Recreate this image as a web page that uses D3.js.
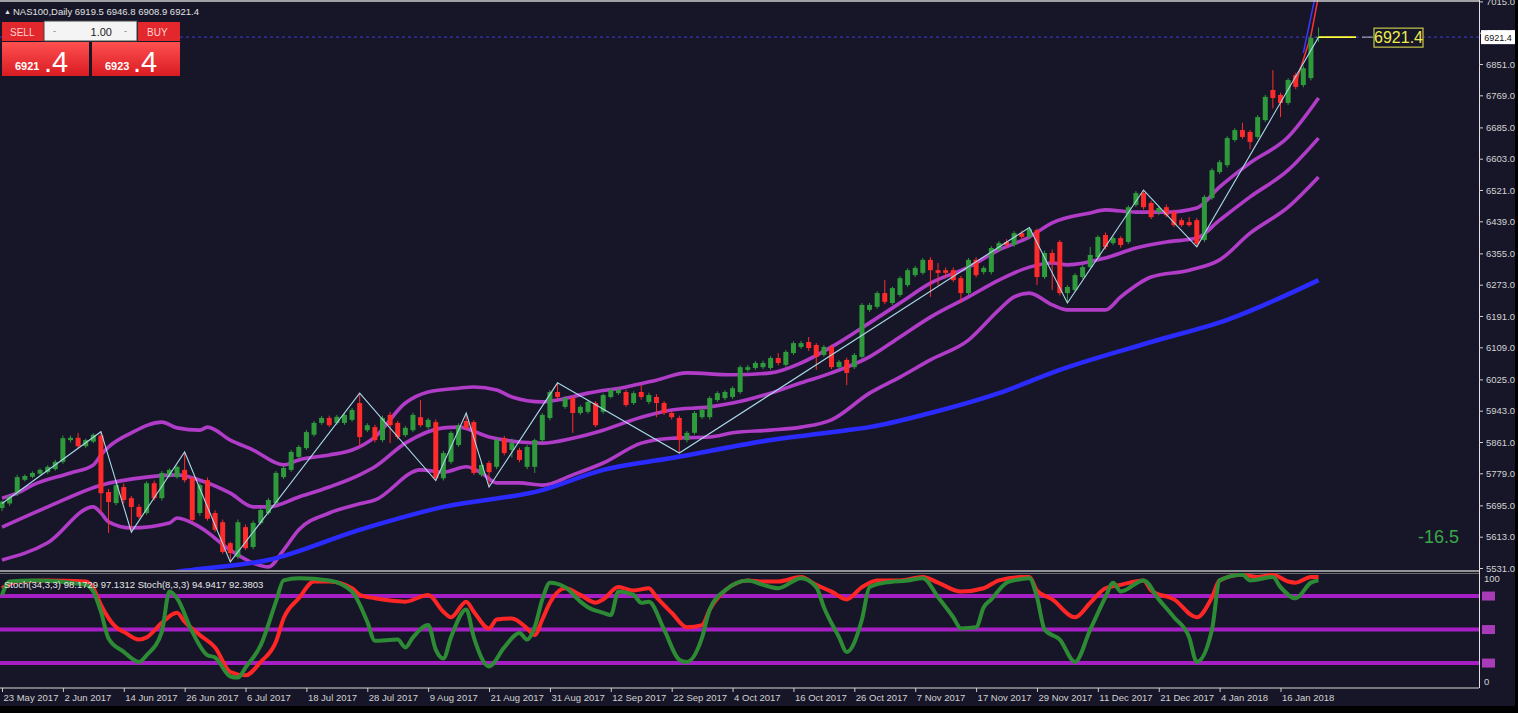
<!DOCTYPE html>
<html><head><meta charset="utf-8">
<script src="https://cdnjs.cloudflare.com/ajax/libs/d3/7.8.5/d3.min.js"></script>
<style>
html,body{margin:0;padding:0;background:#000;overflow:hidden}
text{font-family:"Liberation Sans","DejaVu Sans",Arial,sans-serif}
</style>
</head><body>
<svg id="c" width="1518" height="713"></svg>
<script>
// ---------------- DATA ----------------
const symbolTitle = "NAS100,Daily  6919.5 6946.8 6908.9 6921.4";
const stochTitle = "Stoch(34,3,3) 98.1729 97.1312  Stoch(8,3,3) 94.9417 92.3803";
const dateLabels = ["23 May 2017","2 Jun 2017","14 Jun 2017","26 Jun 2017","6 Jul 2017","18 Jul 2017","28 Jul 2017","9 Aug 2017","21 Aug 2017","31 Aug 2017","12 Sep 2017","22 Sep 2017","4 Oct 2017","16 Oct 2017","26 Oct 2017","7 Nov 2017","17 Nov 2017","29 Nov 2017","11 Dec 2017","21 Dec 2017","4 Jan 2018","16 Jan 2018"];
const dateLabelBars = [0,8,16,24,32,40,48,56,64,72,80,88,96,104,112,120,128,136,144,152,160,168];
const priceTicks = [7015,6933,6851,6769,6685,6603,6521,6439,6355,6273,6191,6109,6025,5943,5861,5779,5695,5613,5531];
const stochTicks = [100,0];
const stochLevels = [80,50,20];
const lastPrice = 6921.4;
const bidText = "6921", bidPip = ".4", askText = "6923", askPip = ".4";
const lotText = "1.00";
const spreadText = "-16.5";

// candles: [open, high, low, close], one per daily bar
const candles = [
[5688,5708,5680,5705],[5700,5722,5694,5718],[5727,5775,5720,5769],[5762,5776,5758,5772],[5770,5784,5766,5780],
[5778,5792,5774,5788],[5782,5800,5777,5796],[5790,5814,5786,5809],[5809,5878,5804,5871],[5866,5878,5860,5872],
[5872,5885,5845,5850],[5850,5870,5845,5866],[5862,5884,5858,5880],[5878,5888,5675,5727],[5730,5738,5623,5704],
[5701,5755,5695,5748],[5743,5752,5700,5709],[5714,5720,5625,5691],[5691,5698,5660,5665],[5675,5758,5670,5753],
[5753,5760,5708,5714],[5714,5785,5708,5780],[5772,5792,5768,5788],[5769,5800,5765,5796],[5788,5835,5755,5761],
[5767,5772,5650,5657],[5675,5755,5668,5748],[5761,5768,5655,5660],[5675,5682,5625,5631],[5651,5658,5568,5573],
[5596,5600,5547,5570],[5560,5658,5555,5651],[5638,5645,5578,5583],[5586,5655,5580,5649],[5649,5688,5644,5683],
[5675,5714,5670,5709],[5701,5785,5696,5780],[5769,5798,5764,5793],[5788,5840,5783,5835],[5822,5853,5817,5848],
[5845,5892,5840,5887],[5880,5916,5875,5911],[5911,5929,5906,5924],[5924,5930,5900,5905],[5911,5932,5906,5927],
[5911,5937,5906,5932],[5919,5950,5914,5945],[5963,5989,5850,5874],[5892,5910,5887,5905],[5900,5906,5860,5866],
[5866,5930,5860,5924],[5932,5940,5858,5905],[5911,5916,5868,5874],[5879,5903,5874,5898],[5892,5938,5887,5932],
[5926,5971,5900,5905],[5900,5924,5894,5919],[5913,5920,5760,5766],[5766,5838,5760,5832],[5809,5890,5803,5885],
[5853,5910,5848,5905],[5916,5937,5892,5898],[5913,5918,5775,5780],[5775,5806,5770,5801],[5806,5812,5743,5782],
[5796,5872,5790,5866],[5871,5877,5826,5832],[5840,5870,5820,5858],[5840,5846,5808,5814],[5796,5853,5790,5848],
[5796,5870,5780,5866],[5866,5937,5860,5932],[5924,5997,5918,5992],[5992,6016,5972,5979],[5953,5981,5948,5976],
[5976,5982,5885,5937],[5937,5958,5932,5953],[5940,5970,5935,5966],[5963,5968,5900,5905],[5940,5988,5935,5984],
[5979,6002,5975,5997],[5989,6002,5984,5997],[5992,5998,5953,5958],[5963,5994,5958,5989],[5992,6010,5972,5979],
[5966,5990,5960,5984],[5979,5986,5926,5963],[5963,5968,5932,5937],[5937,5942,5920,5926],[5924,5930,5832,5866],
[5866,5890,5860,5885],[5885,5942,5880,5937],[5926,5950,5921,5945],[5926,5981,5920,5976],[5971,5994,5966,5989],
[5976,5997,5971,5992],[5979,6007,5974,6002],[5992,6062,5987,6057],[6050,6063,6045,6057],[6055,6073,6050,6068],
[6057,6074,6052,6068],[6055,6086,6050,6081],[6081,6094,6062,6068],[6063,6102,6058,6097],[6094,6125,6089,6120],
[6110,6126,6105,6120],[6123,6136,6100,6107],[6115,6120,6050,6084],[6089,6115,6084,6110],[6110,6116,6052,6057],
[6057,6076,6052,6071],[6076,6082,6010,6042],[6057,6094,6052,6089],[6084,6225,6079,6220],[6207,6225,6202,6220],
[6215,6256,6210,6251],[6251,6285,6222,6228],[6225,6268,6220,6264],[6246,6295,6241,6290],[6272,6316,6267,6311],
[6298,6322,6293,6317],[6304,6343,6299,6338],[6338,6345,6241,6311],[6311,6330,6272,6304],[6311,6318,6290,6304],
[6311,6318,6280,6285],[6290,6296,6225,6251],[6251,6343,6246,6338],[6338,6345,6292,6298],[6306,6322,6300,6317],
[6306,6374,6300,6369],[6364,6387,6359,6382],[6385,6392,6370,6377],[6377,6413,6372,6408],[6408,6415,6392,6398],
[6398,6423,6392,6419],[6416,6420,6272,6293],[6293,6362,6288,6356],[6356,6365,6259,6330],[6385,6390,6245,6251],
[6251,6272,6225,6267],[6259,6303,6254,6298],[6293,6324,6288,6319],[6319,6372,6314,6351],[6345,6403,6340,6398],
[6403,6410,6365,6372],[6382,6400,6377,6395],[6395,6400,6370,6377],[6385,6481,6380,6476],[6482,6518,6477,6513],
[6513,6521,6470,6476],[6487,6493,6445,6450],[6463,6480,6455,6474],[6476,6483,6450,6455],[6463,6470,6424,6429],
[6442,6448,6424,6429],[6437,6450,6425,6429],[6442,6448,6372,6380],[6390,6508,6385,6503],[6500,6578,6495,6573],
[6568,6600,6563,6594],[6586,6662,6580,6657],[6652,6683,6647,6678],[6678,6697,6655,6660],[6673,6678,6628,6647],
[6660,6717,6655,6712],[6704,6770,6699,6765],[6783,6835,6735,6762],[6770,6776,6712,6749],[6749,6814,6744,6809],
[6822,6828,6785,6791],[6796,6846,6790,6840],[6814,6930,6808,6919.5],[6919.5,6946.8,6908.9,6921.4]
];

// zigzag pivots: [bar, price]
const zigzag = [[0,5700],[13,5888],[17,5625],[24,5835],[30,5547],[47,5989],[57,5760],[61,5937],[64,5743],[73,6016],[89,5832],[135,6423],[140,6225],[150,6521],[157,6372],[173,6921.4]];

// bands: [bar, price]
const bandUpper = [[0,5714],[2,5727],[4,5748],[9,5780],[12,5801],[13,5827],[14,5848],[17,5885],[21,5913],[23,5898],[26,5892],[27,5900],[30,5866],[33,5840],[37,5801],[39,5814],[43,5827],[46,5840],[49,5874],[53,5963],[56,5992],[60,6002],[62,6005],[65,5997],[67,5979],[71,5966],[73,5971],[77,5989],[82,6005],[86,6023],[90,6042],[96,6037],[101,6042],[105,6068],[109,6110],[114,6173],[118,6225],[122,6277],[127,6319],[131,6364],[135,6398],[138,6435],[143,6461],[145,6469],[149,6463],[153,6463],[157,6474],[160,6529],[164,6592],[169,6660],[173,6762]];
const bandMiddle = [[0,5638],[6,5691],[13,5748],[19,5769],[23,5775],[26,5761],[30,5727],[33,5691],[35,5691],[39,5717],[43,5743],[47,5775],[49,5796],[53,5858],[58,5898],[60,5900],[64,5874],[68,5861],[71,5858],[75,5871],[79,5892],[84,5926],[88,5945],[93,5953],[96,5963],[101,5989],[105,6016],[109,6042],[114,6084],[118,6136],[122,6188],[127,6241],[131,6285],[135,6319],[138,6330],[140,6325],[145,6343],[149,6369],[153,6385],[157,6395],[160,6442],[164,6503],[169,6573],[173,6657]];
const bandLower = [[0,5552],[6,5597],[12,5691],[13,5675],[14,5652],[17,5636],[22,5649],[23,5662],[26,5638],[30,5578],[33,5544],[35,5534],[37,5578],[39,5631],[43,5675],[47,5699],[49,5709],[55,5788],[58,5782],[61,5796],[63,5780],[65,5754],[68,5754],[71,5748],[75,5775],[79,5806],[84,5858],[88,5871],[93,5874],[96,5885],[101,5892],[105,5900],[109,5919],[114,5989],[118,6031],[122,6076],[127,6128],[131,6207],[133,6241],[135,6251],[138,6220],[140,6207],[145,6207],[147,6241],[151,6293],[156,6311],[160,6338],[164,6408],[169,6476],[173,6555]];
const maSlow = [[18,5505],[23,5521],[25,5526],[35,5552],[47,5631],[58,5691],[71,5735],[79,5788],[88,5819],[101,5866],[111,5892],[114,5900],[122,5937],[131,5989],[139,6050],[151,6123],[161,6181],[173,6285]];
const fastRed = [[170,6800],[172,6925],[173,7030]];
const fastBlue = [[171,6880],[172,6975],[173,7070]];

// stochastics: [bar, value]
const stochSlow = [[0,87],[2,93],[6,94],[11,93],[12,87],[13,72],[15,52],[16,48],[18,41],[19,43],[21,56],[23,65],[24,57],[26,45],[28,34],[30,12],[32,9],[34,21],[36,39],[37,60],[39,78],[41,93],[43,93],[46,87],[47,81],[49,78],[51,76],[53,75],[56,81],[58,66],[59,61],[61,75],[62,66],[64,51],[65,59],[67,60],[69,51],[70,45],[71,59],[72,74],[74,87],[76,81],[78,74],[79,77],[81,88],[83,85],[85,87],[86,79],[88,65],[90,52],[92,54],[93,68],[95,85],[98,94],[100,93],[102,93],[105,97],[107,90],[109,84],[111,77],[113,88],[115,94],[118,94],[121,97],[123,92],[126,84],[129,87],[131,94],[134,97],[135,97],[136,85],[138,77],[141,61],[143,74],[145,87],[147,90],[150,94],[151,85],[154,77],[157,61],[159,79],[160,94],[163,99],[165,97],[167,99],[169,93],[170,92],[172,97],[173,97]];
const stochFast = [[0,81],[1,93],[4,94],[11,90],[12,84],[13,66],[14,42],[16,30],[18,21],[19,27],[21,48],[22,84],[23,78],[25,48],[27,27],[28,25],[30,8],[31,7],[32,16],[34,36],[36,75],[37,94],[39,96],[43,94],[46,84],[48,57],[49,40],[52,41],[53,34],[54,43],[56,54],[57,32],[58,24],[59,43],[61,68],[62,43],[64,17],[66,34],[68,47],[69,41],[70,52],[71,77],[72,92],[74,88],[76,75],[77,70],[79,65],[80,63],[81,84],[83,81],[84,74],[85,75],[87,50],[89,23],[90,21],[92,43],[93,68],[95,85],[98,94],[100,90],[102,87],[105,96],[107,88],[108,70],[110,43],[111,30],[113,59],[114,88],[116,92],[119,94],[121,96],[123,79],[125,61],[126,51],[128,52],[129,70],[130,77],[132,92],[133,94],[135,96],[136,79],[137,50],[139,41],[141,21],[143,50],[145,79],[146,92],[147,84],[150,94],[152,77],[154,61],[156,43],[157,21],[159,50],[160,94],[163,99],[164,94],[167,97],[168,88],[170,78],[172,92],[173,94]];

// ---------------- DRAW ----------------
const W=1518,H=713, AX=1479, MAIN_B=570, ST_T=573, ST_B=688;
const C = {bg:"#171628", up:"#2f9a3c", dn:"#ff2b2b", band:"#b03cc8", ma:"#2b2bff", zz:"#a8d8e8",
  level:"#a51fc4", sRed:"#ff2626", sGreen:"#2e8b35", txt:"#d2d2d2"};

const svg = d3.select("#c");
svg.append("rect").attr("width",W).attr("height",H).attr("fill","#000");
svg.append("rect").attr("width",1515).attr("height",706).attr("fill",C.bg);

const defs = svg.append("defs");
defs.append("clipPath").attr("id","clipMain").append("rect").attr("x",0).attr("y",0).attr("width",AX).attr("height",MAIN_B);
defs.append("clipPath").attr("id","clipSt").append("rect").attr("x",0).attr("y",ST_T).attr("width",AX).attr("height",ST_B-ST_T);
const grad = defs.append("linearGradient").attr("id","gRed").attr("x1",0).attr("y1",0).attr("x2",0).attr("y2",1);
grad.append("stop").attr("offset","0%").attr("stop-color","#ff5050");
grad.append("stop").attr("offset","100%").attr("stop-color","#d81c22");

const x = d3.scaleLinear().domain([0,168]).range([2,1280.5]);
const y = d3.scaleLinear().domain([5531,7015]).range([568,1.4]);
const ys = d3.scaleLinear().domain([0,100]).range([685.4,573.7]);

const main = svg.append("g").attr("clip-path","url(#clipMain)");

// bid line
main.append("line").attr("x1",0).attr("x2",AX).attr("y1",y(lastPrice)).attr("y2",y(lastPrice))
  .attr("stroke","#3434b4").attr("stroke-width",1.2).attr("stroke-dasharray","3,3");

const ln = d3.line().x(d=>x(d[0])).y(d=>y(d[1])).curve(d3.curveMonotoneX);
[bandUpper,bandMiddle,bandLower].forEach(b=>{
  main.append("path").attr("d",ln(b)).attr("fill","none").attr("stroke",C.band).attr("stroke-width",3.6).attr("stroke-linejoin","round");
});
main.append("path").attr("d",ln(maSlow)).attr("fill","none").attr("stroke",C.ma).attr("stroke-width",4.5);
main.append("path").attr("d",d3.line().x(d=>x(d[0])).y(d=>y(d[1]))(fastRed)).attr("fill","none").attr("stroke","#ff3030").attr("stroke-width",1.5);
main.append("path").attr("d",d3.line().x(d=>x(d[0])).y(d=>y(d[1]))(fastBlue)).attr("fill","none").attr("stroke","#3a3aff").attr("stroke-width",1.5);

// candles
const cg = main.append("g");
cg.selectAll("line.w").data(candles).enter().append("line")
  .attr("x1",(d,i)=>x(i)).attr("x2",(d,i)=>x(i)).attr("y1",d=>y(d[1])).attr("y2",d=>y(d[2]))
  .attr("stroke",d=>d[3]>=d[0]?C.up:C.dn).attr("stroke-width",1);
cg.selectAll("rect.b").data(candles).enter().append("rect")
  .attr("x",(d,i)=>x(i)-2.5).attr("width",5)
  .attr("y",d=>Math.min(y(d[0]),y(d[3])))
  .attr("height",d=>Math.max(1,Math.abs(y(d[0])-y(d[3]))))
  .attr("fill",d=>d[3]>=d[0]?C.up:C.dn);

// zigzag
main.append("path").attr("d",d3.line().x(d=>x(d[0])).y(d=>y(d[1]))(zigzag))
  .attr("fill","none").attr("stroke",C.zz).attr("stroke-width",1.1);

// yellow last price marker
const yl = y(lastPrice);
svg.append("line").attr("x1",x(173)).attr("x2",1356).attr("y1",yl).attr("y2",yl).attr("stroke","#ffff3a").attr("stroke-width",1.6);
svg.append("line").attr("x1",1362).attr("x2",1373).attr("y1",yl).attr("y2",yl).attr("stroke","#bbbbbb").attr("stroke-width",1);
svg.append("rect").attr("x",1374).attr("y",yl-9).attr("width",49).attr("height",19).attr("fill",C.bg).attr("stroke","#c8c84a").attr("stroke-width",1.2);
svg.append("text").attr("x",1398.5).attr("y",yl+6).attr("text-anchor","middle").attr("font-size",16).attr("fill","#ecec50").text(lastPrice.toFixed(1));

svg.append("text").attr("x",1418).attr("y",543).attr("font-size",18).attr("fill","#3aa84a").text(spreadText);

// frame lines
svg.append("line").attr("x1",0).attr("x2",AX).attr("y1",1).attr("y2",1).attr("stroke","#cfcfcf").attr("stroke-width",1.5);
svg.append("line").attr("x1",0).attr("x2",AX).attr("y1",571).attr("y2",571).attr("stroke","#bdbdbd").attr("stroke-width",1.5);
svg.append("line").attr("x1",0).attr("x2",AX).attr("y1",573.5).attr("y2",573.5).attr("stroke","#6a6a6a").attr("stroke-width",1);
svg.append("line").attr("x1",0).attr("x2",AX).attr("y1",ST_B).attr("y2",ST_B).attr("stroke","#d8d8d8").attr("stroke-width",1.2);

// price axis
const pa = svg.append("g").attr("transform",`translate(${AX},0)`)
  .call(d3.axisRight(y).tickValues(priceTicks).tickFormat(d=>d.toFixed(1)).tickSize(4).tickPadding(3));
pa.select(".domain").attr("stroke","#e0e0e0").attr("d","M0.5,0V"+ST_B);
pa.selectAll(".tick line").attr("stroke","#cfcfcf");
pa.selectAll("text").attr("fill",C.txt).attr("font-size",9.5).attr("font-family","Liberation Sans, Arial");

// price tag
svg.append("rect").attr("x",1481).attr("y",yl-7).attr("width",34).attr("height",14).attr("fill","#ffffff");
svg.append("text").attr("x",1498).attr("y",yl+3.5).attr("text-anchor","middle").attr("font-size",9).attr("fill","#111").text(lastPrice.toFixed(1));

// stochastic panel
const st = svg.append("g").attr("clip-path","url(#clipSt)");
stochLevels.forEach(v=>{
  st.append("line").attr("x1",0).attr("x2",AX).attr("y1",ys(v)).attr("y2",ys(v)).attr("stroke",C.level).attr("stroke-width",4);
  svg.append("rect").attr("x",1482).attr("y",ys(v)-4.5).attr("width",13).attr("height",9).attr("fill","#a83cb8");
});
const sl = d3.line().x(d=>x(d[0])).y(d=>ys(d[1])).curve(d3.curveMonotoneX);
st.append("path").attr("d",sl(stochSlow)).attr("fill","none").attr("stroke",C.sRed).attr("stroke-width",4).attr("stroke-linejoin","round");
st.append("path").attr("d",sl(stochFast)).attr("fill","none").attr("stroke",C.sGreen).attr("stroke-width",4).attr("stroke-linejoin","round");

const sa = svg.append("g").attr("transform",`translate(${AX},0)`)
  .call(d3.axisRight(ys).tickValues(stochTicks).tickSize(0).tickPadding(5));
sa.select(".domain").remove();
sa.selectAll("text").attr("fill",C.txt).attr("font-size",9.5).attr("dy",(d)=>d===100?"0.85em":"-0.1em");

svg.append("text").attr("x",4).attr("y",588).attr("font-size",9.5).attr("fill","#e6e6e6").text(stochTitle);

// date axis
const da = svg.append("g").attr("transform",`translate(0,${ST_B})`)
  .call(d3.axisBottom(x).tickValues(dateLabelBars).tickFormat((d,i)=>dateLabels[i]).tickSize(4).tickPadding(2));
da.select(".domain").remove();
da.selectAll(".tick line").attr("stroke","#cfcfcf");
da.selectAll("text").attr("fill",C.txt).attr("font-size",9.5).attr("text-anchor","start").attr("dx",1).attr("y",6);

// header & trade panel
svg.append("text").attr("x",4).attr("y",14).attr("font-size",7).attr("fill","#e0e0e0").text("▲");
svg.append("text").attr("x",13).attr("y",15).attr("font-size",9.5).attr("fill","#e0e0e0").text(symbolTitle);

svg.append("rect").attr("x",2).attr("y",22).attr("width",42).attr("height",19).attr("fill","#e2282d");
svg.append("text").attr("x",10).attr("y",35.5).attr("font-size",10).attr("fill","#ffd2d2").text("SELL");
svg.append("rect").attr("x",138).attr("y",22).attr("width",42).attr("height",19).attr("fill","#e2282d");
svg.append("text").attr("x",147).attr("y",35.5).attr("font-size",10).attr("fill","#ffd2d2").text("BUY");
svg.append("rect").attr("x",44).attr("y",21).attr("width",93).attr("height",20).attr("fill","#f4f4f4").attr("stroke","#444").attr("stroke-width",1);
svg.append("text").attr("x",53).attr("y",34).attr("font-size",9).attr("fill","#777").text("-");
svg.append("text").attr("x",124).attr("y",34).attr("font-size",9).attr("fill","#777").text("-");
svg.append("text").attr("x",112).attr("y",35.5).attr("text-anchor","end").attr("font-size",11).attr("fill","#222").text(lotText);

svg.append("rect").attr("x",2).attr("y",42).attr("width",87).attr("height",34).attr("fill","url(#gRed)");
svg.append("rect").attr("x",92).attr("y",42).attr("width",88).attr("height",34).attr("fill","url(#gRed)");
svg.append("text").attr("x",15).attr("y",70).attr("font-size",11).attr("font-weight","bold").attr("fill","#fff").text(bidText);
svg.append("text").attr("x",44).attr("y",72).attr("font-size",29).attr("fill","#fff").text(bidPip);
svg.append("text").attr("x",105).attr("y",70).attr("font-size",11).attr("font-weight","bold").attr("fill","#fff").text(askText);
svg.append("text").attr("x",133).attr("y",72).attr("font-size",29).attr("fill","#fff").text(askPip);
</script>
</body></html>
